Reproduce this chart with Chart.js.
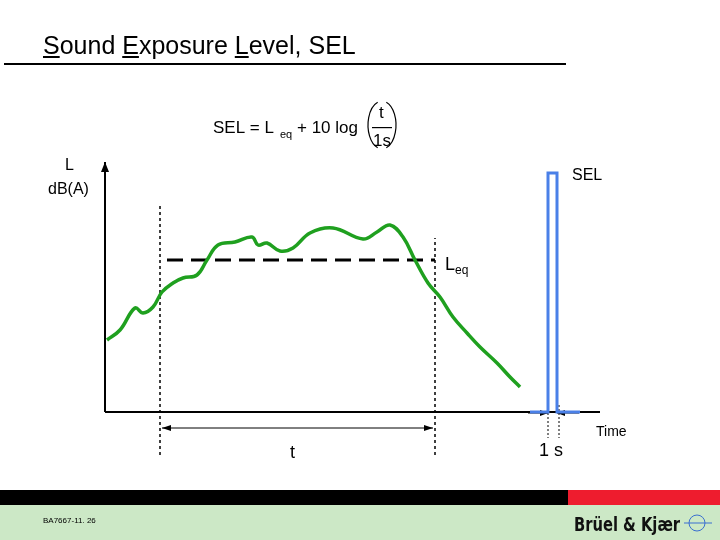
<!DOCTYPE html>
<html><head><meta charset="utf-8">
<script src="https://cdn.jsdelivr.net/npm/chart.js@4/dist/chart.umd.min.js"></script>
<style>body{margin:0;background:#fff}#wrap{width:720px;height:540px}</style>
</head><body><div id="wrap"><canvas id="c"></canvas></div>
<script>
// time in arbitrary units, level in dB(A)
const curveTime = [0.2,1.5,3.0,3.8,4.8,5.7,6.8,7.8,9.2,10.2,11.3,13,14.7,15.3,16.2,17.5,18.8,20.5,22.8,25.8,27.2,28.5,29.8,31,32.3,33.5,34.8,36.2,37.5,39.2,40.5,41.5];
const curveLevel = [14.4,16.4,20.8,19.8,21,24,25.8,26.8,27.4,30.4,33.4,34,35,33.4,33.8,32.2,32.8,35.8,36.8,34.6,36,37.4,35,30.4,25.8,23,19,15.8,13,9.8,7,5];
const leqLevel = 30.4;
const leqSpan = [6.2, 33];
const tMarks = [5.5, 33];
const tMarkTops = [41.4, 34.8];
const selTime = [44.3, 45.2];
const selLevel = 47.8;
const selFoot = [42.5, 47.5];

const pts = curveTime.map((t, i) => ({x: t, y: curveLevel[i]}));

const deco = {
  id: 'deco',
  beforeDraw(chart) {
    const g = chart.ctx, x = chart.scales.x, y = chart.scales.y;
    g.save();
    g.fillStyle = '#000';
    g.font = '25px Arial, "Liberation Sans"';
    g.textBaseline = 'alphabetic';
    const title = 'Sound Exposure Level, SEL';
    g.fillText(title, 43, 54);
    const under = [0, 6, 15];
    g.fillRect(4, 63, 562, 2);
    under.forEach(i => {
      const a = 43 + g.measureText(title.slice(0, i)).width;
      const w = g.measureText(title[i]).width;
      g.fillRect(a, 56, w, 2);
    });
    // formula
    g.font = '17px Arial, "Liberation Sans"';
    g.fillText('SEL = L', 213, 133);
    g.font = '11px Arial, "Liberation Sans"';
    g.fillText('eq', 280, 138);
    g.font = '17px Arial, "Liberation Sans"';
    g.fillText('+ 10 log', 297, 133);
    g.fillText('t', 379, 118);
    g.fillText('1s', 373, 146);
    g.fillRect(372, 127, 20, 1.2);
    g.lineWidth = 1.2;
    g.beginPath(); g.ellipse(382, 125, 14, 24, 0, Math.PI * 0.6, Math.PI * 1.4); g.stroke();
    g.beginPath(); g.ellipse(382, 125, 14, 24, 0, -Math.PI * 0.4, Math.PI * 0.4); g.stroke();
    // labels
    g.font = '16px Arial, "Liberation Sans"';
    g.fillText('L', 65, 170);
    g.fillText('dB(A)', 48, 194);
    g.fillText('SEL', 572, 180);
    g.font = '18px Arial, "Liberation Sans"';
    g.fillText('L', 445, 270);
    g.font = '12px Arial, "Liberation Sans"';
    g.fillText('eq', 455, 274);
    g.font = '18px Arial, "Liberation Sans"';
    g.fillText('t', 290, 458);
    g.fillText('1 s', 539, 456);
    g.font = '14px Arial, "Liberation Sans"';
    g.fillText('Time', 596, 436);
    // axes
    const x0 = x.getPixelForValue(0), y0 = y.getPixelForValue(0);
    const yTop = y.getPixelForValue(50), xEnd = x.getPixelForValue(49.5);
    g.lineWidth = 2;
    g.beginPath(); g.moveTo(x0, y0); g.lineTo(x0, yTop); g.moveTo(x0, y0); g.lineTo(xEnd, y0); g.stroke();
    g.beginPath(); g.moveTo(x0 - 4, yTop + 10); g.lineTo(x0, yTop); g.lineTo(x0 + 4, yTop + 10); g.fill();
    // t arrow
    const ay = 428, a1 = x.getPixelForValue(tMarks[0]) + 2, a2 = x.getPixelForValue(tMarks[1]) - 2;
    g.lineWidth = 1;
    g.beginPath(); g.moveTo(a1, ay); g.lineTo(a2, ay); g.stroke();
    g.beginPath(); g.moveTo(a1, ay); g.lineTo(a1 + 9, ay - 3); g.lineTo(a1 + 9, ay + 3); g.fill();
    g.beginPath(); g.moveTo(a2, ay); g.lineTo(a2 - 9, ay - 3); g.lineTo(a2 - 9, ay + 3); g.fill();
    // 1 s arrows
    const s1 = x.getPixelForValue(selTime[0]), s2 = x.getPixelForValue(selTime[1]), sy = 413;
    g.beginPath(); g.moveTo(s1 - 20, sy); g.lineTo(s1, sy); g.moveTo(s2 + 22, sy); g.lineTo(s2, sy); g.stroke();
    g.beginPath(); g.moveTo(s1, sy); g.lineTo(s1 - 8, sy - 3); g.lineTo(s1 - 8, sy + 3); g.fill();
    g.beginPath(); g.moveTo(s2, sy); g.lineTo(s2 + 8, sy - 3); g.lineTo(s2 + 8, sy + 3); g.fill();
    g.setLineDash([2, 2]);
    g.beginPath(); g.moveTo(s1, 405); g.lineTo(s1, 438); g.moveTo(s2 + 2, 405); g.lineTo(s2 + 2, 438); g.stroke();
    g.setLineDash([]);
    // footer
    g.fillRect(0, 490, 568, 15);
    g.fillStyle = '#ee1c2e'; g.fillRect(568, 490, 152, 15);
    g.fillStyle = '#cce8c6'; g.fillRect(0, 505, 720, 35);
    g.fillStyle = '#000';
    g.font = '8px Arial, "Liberation Sans"';
    g.fillText('BA7667-11. 26', 43, 523);
    g.font = 'bold 19px "Liberation Sans Narrow", "DejaVu Sans Condensed", Arial';
    g.fillStyle = '#111';
    g.save(); g.translate(574, 531); g.scale(0.86, 1); g.fillText('Brüel & Kjær', 0, 0); g.restore();
    g.strokeStyle = '#3a6fd0'; g.lineWidth = 1;
    g.beginPath(); g.arc(697, 523, 8, 0, Math.PI * 2); g.stroke();
    g.beginPath(); g.moveTo(684, 523); g.lineTo(712, 523); g.stroke();
    g.restore();
  }
};

new Chart(document.getElementById('c'), {
  type: 'line',
  data: {
    datasets: [
      {data: pts, borderColor: '#1fa01f', borderWidth: 3.5, tension: 0.4, pointRadius: 0},
      {data: leqSpan.map(t => ({x: t, y: leqLevel})), borderColor: '#000', borderWidth: 3, borderDash: [16, 8], pointRadius: 0},
      {data: [{x: tMarks[0], y: -8.6}, {x: tMarks[0], y: tMarkTops[0]}], borderColor: '#000', borderWidth: 1.5, borderDash: [3, 3], pointRadius: 0},
      {data: [{x: tMarks[1], y: -8.6}, {x: tMarks[1], y: tMarkTops[1]}], borderColor: '#000', borderWidth: 1.5, borderDash: [3, 3], pointRadius: 0},
      {data: [{x: selFoot[0], y: 0}, {x: selTime[0], y: 0}, {x: selTime[0], y: selLevel}, {x: selTime[1], y: selLevel}, {x: selTime[1], y: 0}, {x: selFoot[1], y: 0}],
       borderColor: '#4a80e8', borderWidth: 3, pointRadius: 0, tension: 0}
    ]
  },
  options: {
    responsive: true, maintainAspectRatio: false, animation: false,
    layout: {padding: {left: 105, right: 115, top: 162, bottom: 128}},
    plugins: {legend: {display: false}, tooltip: {enabled: false}},
    datasets: {line: {clip: false}},
    scales: {
      x: {type: 'linear', min: 0, max: 50, display: false},
      y: {min: 0, max: 50, display: false}
    }
  },
  plugins: [deco]
});
</script></body></html>
